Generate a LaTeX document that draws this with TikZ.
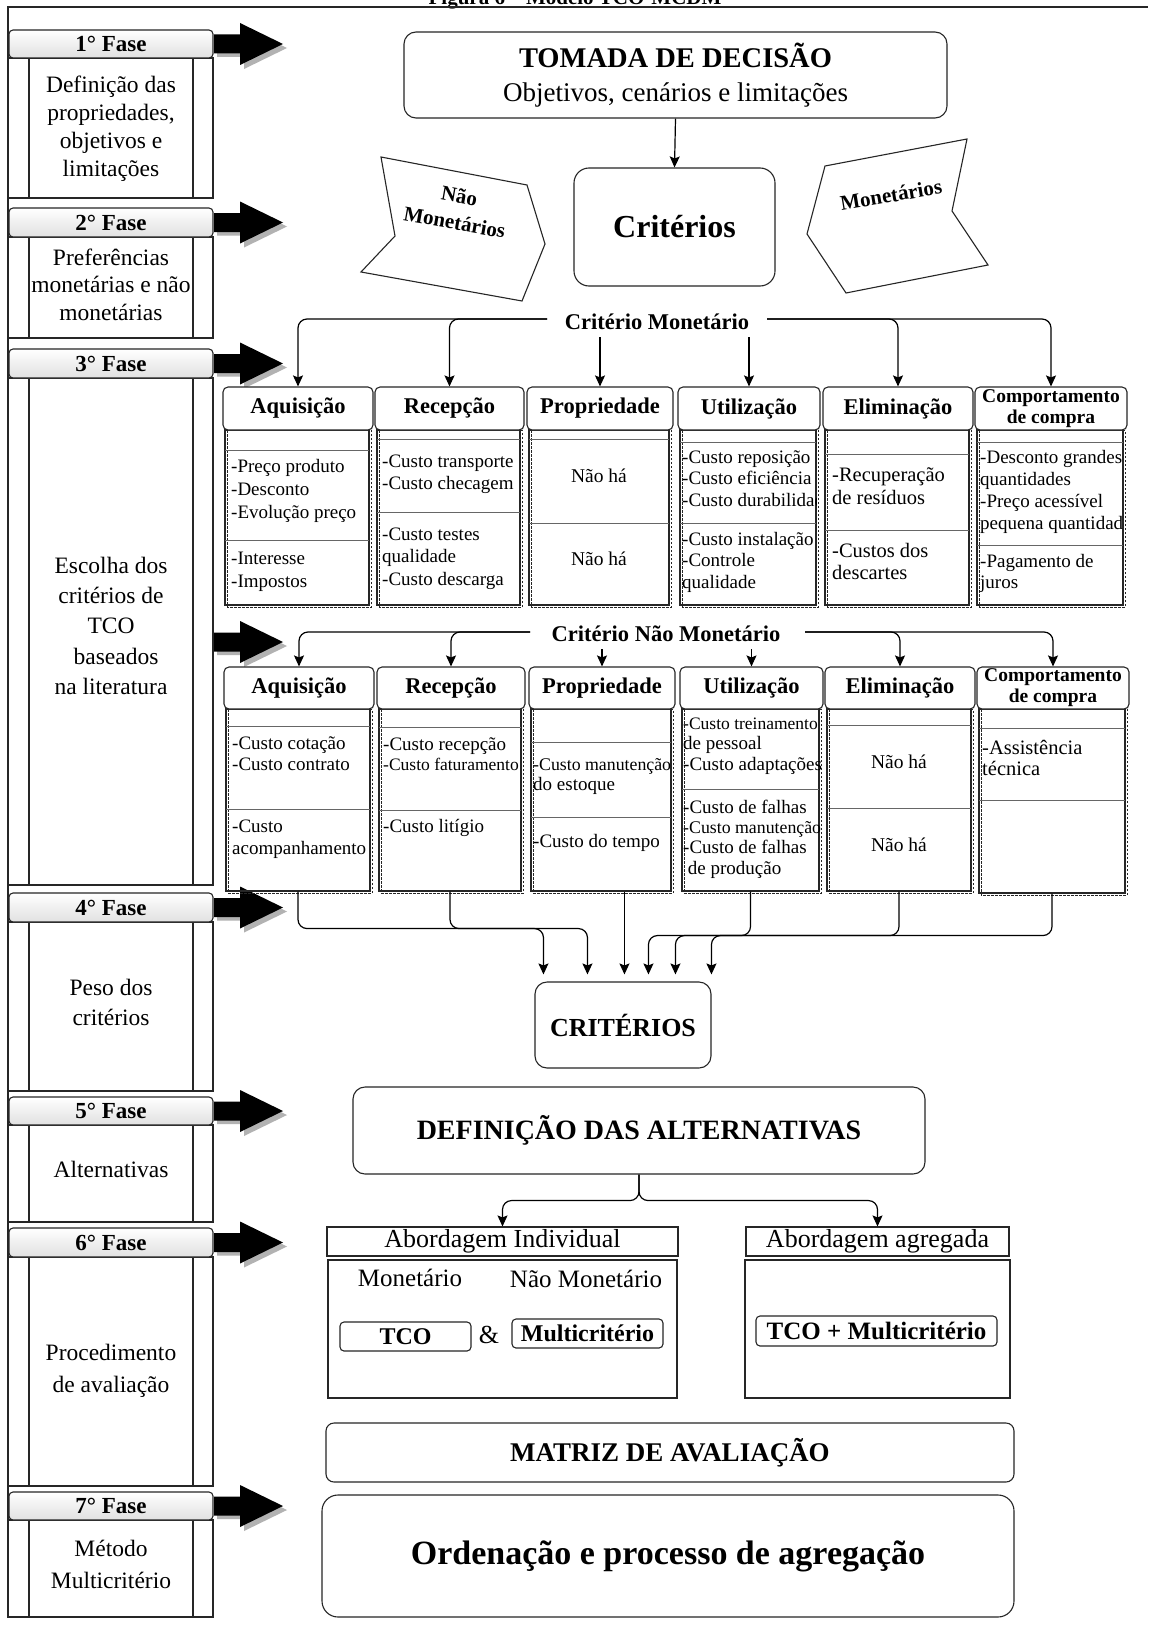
\documentclass[tikz,border=0pt]{standalone}
\usepackage{fontspec}
\setmainfont{Liberation Serif}
\usetikzlibrary{arrows.meta,calc}
\newcommand\fsz[1]{\fontsize{#1}{#1}\selectfont}
\newcommand\barrow[1]{%
  \fill[black!30] (217,{#1-6}) -- (244,{#1-6}) -- (244,{#1-17}) -- (287,{#1+4}) -- (244,{#1+25}) -- (244,{#1+13}) -- (217,{#1+13}) -- cycle;
  \fill[black] (214,{#1-9.5}) -- (240,{#1-9.5}) -- (240,{#1-21}) -- (283,{#1}) -- (240,{#1+21}) -- (240,{#1+9.5}) -- (214,{#1+9.5}) -- cycle;}
\newcommand\phase[4]{%
  \node[phb, minimum height={#4pt-#3pt}] (ph#1b) at (110.5,{(#3+#4)/2}) {};
  \draw[ln] (29,#3) -- (29,#4) (193,#3) -- (193,#4);
  \node[phh, minimum height={#3pt-#2pt}] (ph#1h) at (111,{(#2+#3)/2}) {#1° Fase};
  \barrow{(#2+#3)/2}}
\newcommand\chdr[7][]{\node[chdr,#1, minimum width={#4pt-#3pt}, minimum height={#6pt-#5pt}] (#2) at ({(#3+#4)/2},{(#5+#6)/2}) {#7};}
\newcommand\cbody[5]{%
  \draw[dsh] ({#2+2},#3) rectangle ({#4+2},{#5+2});
  \node[ln, inner sep=0, minimum width={#4pt-#2pt}, minimum height={#5pt-#3pt}] (#1) at ({(#2+#4)/2},{(#3+#5)/2}) {};}
\newcommand\dv[3]{\draw[dvl] (#1,#3) -- (#2,#3);}
\newcommand\lines[6]{\foreach \txt [count=\i from 0] in {#6}{\node[#1] (#2\i) at (#3,{#4+\i*#5}) {\txt};}}
\begin{document}
\begin{tikzpicture}[x=1pt,y=-1pt,
  ln/.style={line width=1.1pt, draw=black!85},
  dsh/.style={line width=0.9pt, draw=black!85, dash pattern=on 2.5pt off 1.5pt},
  dvl/.style={line width=0.9pt, draw=black!60},
  con/.style={line width=1.2pt, draw=black, rounded corners=9pt, -{Stealth[length=11pt,width=10pt,inset=2pt]}},
  short/.style={shorten >=7pt},
  phb/.style={ln, inner sep=0, minimum width=205pt},
  phh/.style={ln, rounded corners=4pt, top color=white, bottom color=black!12, inner sep=0, minimum width=204pt, font=\bfseries\fsz{23}},
  chdr/.style={ln, fill=white, rounded corners=5pt, inner sep=0, font=\bfseries\fsz{22.5}, align=center},
  item/.style={anchor=mid west, inner sep=0, font=\fsz{19}},
  itemc/.style={anchor=mid, inner sep=0, font=\fsz{19.5}},
  ptxt/.style={anchor=mid, inner sep=0, font=\fsz{23.5}}
]
\useasboundingbox (0,0) rectangle (1148,1627);
\fill[white] (0,0) rectangle (1148,1627);
% title (cut by page top)
\node[font=\bfseries\fsz{21}, anchor=base, inner sep=0] (title) at (575,5) {Figura 6 – Modelo TCO-MCDM};
% frame
\draw[ln] (8,1617) -- (8,7) -- (1148,7);
% phases
\phase{1}{30}{58}{198}
\phase{2}{208}{237}{338}
\phase{3}{349}{378}{885}
\phase{4}{893}{922}{1091}
\phase{5}{1097}{1125}{1222}
\phase{6}{1228}{1257}{1486}
\phase{7}{1492}{1520}{1617}
\barrow{642}
\lines{ptxt}{pa}{111}{90}{28}{Definição das,{propriedades,},objetivos e,limitações}
\lines{ptxt}{pb}{111}{263}{27.5}{Preferências,monetárias e não,monetárias}
\lines{ptxt}{pc}{111}{571}{30.3}{Escolha dos,critérios de,TCO,\hspace{10pt}baseados,na literatura}
\lines{ptxt}{pd}{111}{993}{30}{Peso dos,critérios}
\lines{ptxt}{pe}{111}{1175}{30}{Alternativas}
\lines{ptxt}{pf}{111}{1358}{32}{Procedimento,de avaliação}
\lines{ptxt}{pg}{111}{1554}{32}{Método,Multicritério}
% top
\node[ln, rounded corners=12pt, minimum width=543pt, minimum height=86pt] (tom) at (675.5,75) {};
\node[font=\bfseries\fsz{28.5}, anchor=base, inner sep=0] (tomA) at (675.5,68) {TOMADA DE DECISÃO};
\node[font=\fsz{27}, anchor=base, inner sep=0] (tomB) at (675.5,102) {Objetivos, cenários e limitações};
\node[ln, rounded corners=15pt, minimum width=201pt, minimum height=118pt, font=\bfseries\fsz{32}] (crit) at (674.5,227) {Critérios};
\draw[con] (tom.south) -- (crit.north);
\draw[ln] (381,157) -- (527,185) -- (545,244) -- (522,301) -- (361,272) -- (395,236) -- cycle;
\node[rotate=-10, align=center, inner sep=0, font=\bfseries\fontsize{21}{27}\selectfont] (nm) at (457,209) {Não\\Monetários};
\draw[ln] (825,166) -- (967,139) -- (952,211) -- (988,265) -- (846,293) -- (807,234) -- cycle;
\node[rotate=9.5, inner sep=0, font=\bfseries\fsz{21}] (mon0) at (891,195) {Monetários};
% ===== row 1 =====
\node[font=\bfseries\fsz{22.5}, anchor=base, inner sep=0] (cm) at (657,329) {Critério Monetário};
\cbody{aqb1}{225}{430}{369}{605}
\dv{225}{369}{450}\dv{225}{369}{540}
\lines{item}{aqA}{231}{470}{23}{-Preço produto,-Desconto,-Evolução preço}
\lines{item}{aqB}{231}{562}{23}{-Interesse,-Impostos}
\cbody{rcb1}{377}{430}{520}{605}
\dv{377}{520}{439}\dv{377}{520}{512}
\lines{item}{rcA}{382}{465}{22}{-Custo transporte,-Custo checagem}
\lines{item}{rcB}{382}{538}{22.5}{-Custo testes,qualidade,-Custo descarga}
\cbody{prb1}{529}{430}{669}{605}
\dv{529}{669}{439}\dv{529}{669}{523}
\node[itemc] (prA) at (599,480) {Não há};
\node[itemc] (prB) at (599,563) {Não há};
\cbody{utb1}{680}{430}{816}{605}
\dv{680}{816}{442}\dv{680}{816}{523}
\begin{scope}
\clip (680,430) rectangle (816,605);
\lines{item}{utA}{682}{461}{21.5}{-Custo reposição,-Custo eficiência,-Custo durabilidade}
\end{scope}
\lines{item}{utB}{682}{543}{21.5}{-Custo instalação,-Controle,qualidade}
\cbody{elb1}{825}{430}{969}{605}
\dv{825}{969}{454}\dv{825}{969}{530}
\lines{item, font=\fsz{20.5}}{elA}{832}{479}{23}{-Recuperação,de resíduos}
\lines{item, font=\fsz{20.5}}{elB}{832}{555}{22}{-Custos dos,descartes}
\cbody{cbb1}{977}{430}{1123}{605}
\dv{977}{1123}{442}\dv{977}{1123}{545}
\begin{scope}
\clip (977,430) rectangle (1123,605);
\lines{item}{cbA}{980}{461}{22}{-Desconto grandes,quantidades,-Preço acessível,pequena quantidade}
\end{scope}
\lines{item}{cbB}{980}{565}{21}{-Pagamento de,juros}
\chdr{aq1}{223}{373}{387}{430}{Aquisição}
\chdr{rc1}{375}{524}{387}{430}{Recepção}
\chdr{pr1}{527}{673}{387}{430}{Propriedade}
\chdr{ut1}{678}{820}{387}{430}{Utilização}
\chdr{el1}{823}{973}{387}{430}{Eliminação}
\chdr[font=\bfseries\fontsize{19.5}{21}\selectfont]{cb1}{975}{1127}{387}{430}{Comportamento\\de compra}
\coordinate (cmL) at (547,319);
\coordinate (cmR) at (767,319);
\coordinate (cmS) at (0,337);
\draw[con] (cmL) -| (aq1.north);
\draw[con] (cmL) -| (rc1.north);
\draw[con] (cmR) -| (el1.north);
\draw[con] (cmR) -| (cb1.north);
\draw[con] (pr1.north |- cmS) -- (pr1.north);
\draw[con] (ut1.north |- cmS) -- (ut1.north);
% ===== row 2 =====
\node[font=\bfseries\fsz{22.5}, anchor=base, inner sep=0] (cn) at (666,641) {Critério Não Monetário};
\cbody{aqb2}{226}{709}{370}{891}
\dv{226}{370}{726}\dv{226}{370}{809}
\lines{item}{aqC}{232}{747}{21}{-Custo cotação,-Custo contrato}
\lines{item}{aqD}{232}{830}{22}{-Custo,acompanhamento}
\cbody{rcb2}{379}{709}{521}{891}
\dv{379}{521}{727}\dv{379}{521}{810}
\lines{item}{rcC}{383}{748}{20}{-Custo recepção,{\fontsize{17.5}{17.5}\selectfont -Custo faturamento}}
\node[item] (rcD) at (383,830) {-Custo litígio};
\cbody{prb2}{531}{709}{671}{891}
\dv{531}{671}{742}\dv{531}{671}{817}
\lines{item}{prC}{533}{768}{20}{{\fontsize{17.8}{17.8}\selectfont -Custo manutenção},do estoque}
\node[item] (prD) at (533,845) {-Custo do tempo};
\cbody{utb2}{682}{709}{819}{891}
\dv{682}{819}{789}
\lines{item}{utC}{683}{727}{20.5}{{\fontsize{17.5}{17.5}\selectfont -Custo treinamento},de pessoal,-Custo adaptações}
\lines{item}{utD}{683}{811}{20.3}{-Custo de falhas,{\fontsize{17.8}{17.8}\selectfont -Custo manutenção},-Custo de falhas,\ de produção}
\cbody{elb2}{827}{709}{971}{891}
\dv{827}{971}{725}\dv{827}{971}{808}
\node[itemc] (elC) at (899,766) {Não há};
\node[itemc] (elD) at (899,849) {Não há};
\cbody{cbb2}{979}{709}{1125}{893}
\dv{979}{1125}{728}\dv{979}{1125}{800}
\lines{item, font=\fsz{20.5}}{cbC}{982}{752}{21}{-Assistência,técnica}
\chdr{aq2}{224}{374}{667}{709}{Aquisição}
\chdr{rc2}{377}{525}{667}{709}{Recepção}
\chdr{pr2}{529}{675}{667}{709}{Propriedade}
\chdr{ut2}{680}{823}{667}{709}{Utilização}
\chdr{el2}{825}{975}{667}{709}{Eliminação}
\chdr[font=\bfseries\fontsize{19.5}{21}\selectfont]{cb2}{977}{1129}{667}{709}{Comportamento\\de compra}
\coordinate (cnL) at (530,632);
\coordinate (cnR) at (805,632);
\coordinate (cnS) at (0,649);
\draw[con] (cnL) -| (aq2.north);
\draw[con] (cnL) -| (rc2.north);
\draw[con] (cnR) -| (el2.north);
\draw[con] (cnR) -| (cb2.north);
\draw[con] (pr2.north |- cnS) -- (pr2.north);
\draw[con] (ut2.north |- cnS) -- (ut2.north);
% ===== CRITERIOS =====
\node[ln, rounded corners=12pt, minimum width=176pt, minimum height=86pt, font=\bfseries\fsz{26}] (crit2) at (623,1025) {CRITÉRIOS};
\coordinate (c1) at ($(crit2.north west)+(9,0)$);
\coordinate (c2) at ($(crit2.north west)+(53,0)$);
\coordinate (c3) at ($(crit2.north west)+(90,0)$);
\coordinate (c4) at ($(crit2.north west)+(114,0)$);
\coordinate (c5) at ($(crit2.north west)+(141,0)$);
\coordinate (c6) at ($(crit2.north west)+(177,0)$);
\draw[con, short] (aqb2.south) -- ++(0,37) -| (c1);
\draw[con, short] (rcb2.south) -- ++(0,37) -| (c2);
\draw[con, short] (c3 |- prb2.south) -- (c3);
\draw[con, short] (utb2.south) -- ++(0,44) -| (c4);
\draw[con, short] (elb2.south) -- ++(0,44) -| (c5);
\draw[con, short] (cbb2.south) -- ++(0,42) -| (c6);
% ===== alternativas =====
\node[ln, rounded corners=12pt, minimum width=572pt, minimum height=87pt, font=\bfseries\fsz{28}] (def) at (639,1130.5) {DEFINIÇÃO DAS ALTERNATIVAS};
\node[ln, minimum width=351pt, minimum height=29pt, inner sep=0, font=\fsz{26}] (abi) at (502.5,1241.5) {Abordagem Individual};
\node[ln, minimum width=263pt, minimum height=29pt, inner sep=0, font=\fsz{26}] (aga) at (877.5,1241.5) {Abordagem agregada};
\draw[con] (def.south) -- ++(0,26) -| (abi.north);
\draw[con] (def.south) -- ++(0,26) -| (aga.north);
\node[ln, minimum width=349pt, minimum height=138pt, inner sep=0] (indb) at (502.5,1329) {};
\node[ln, minimum width=265pt, minimum height=138pt, inner sep=0] (aggb) at (877.5,1329) {};
\node[font=\fsz{25}, inner sep=0] (monA) at (410,1278) {Monetário};
\node[font=\fsz{25}, inner sep=0] (monB) at (586,1279) {Não Monetário};
\node[ln, rounded corners=4pt, minimum width=131pt, minimum height=29pt, inner sep=0, font=\bfseries\fsz{24}] (tco) at (405.5,1336.5) {TCO};
\node[font=\fsz{26}, inner sep=0] (amp) at (489,1335) {\&};
\node[ln, rounded corners=4pt, minimum width=151pt, minimum height=29pt, inner sep=0, font=\bfseries\fsz{24}] (mc) at (587.5,1333.5) {Multicritério};
\node[ln, rounded corners=4pt, minimum width=241pt, minimum height=30pt, inner sep=0, font=\bfseries\fsz{25}] (tcom) at (876.5,1331) {TCO + Multicritério};
\node[ln, rounded corners=8pt, minimum width=688pt, minimum height=59pt, inner sep=0, font=\bfseries\fsz{27}] (mat) at (670,1452.5) {MATRIZ DE AVALIAÇÃO};
\node[ln, rounded corners=16pt, minimum width=692pt, minimum height=122pt, inner sep=0, font=\bfseries\fsz{34}] (ord) at (668,1556) {Ordenação e processo de agregação};
\end{tikzpicture}
\end{document}
